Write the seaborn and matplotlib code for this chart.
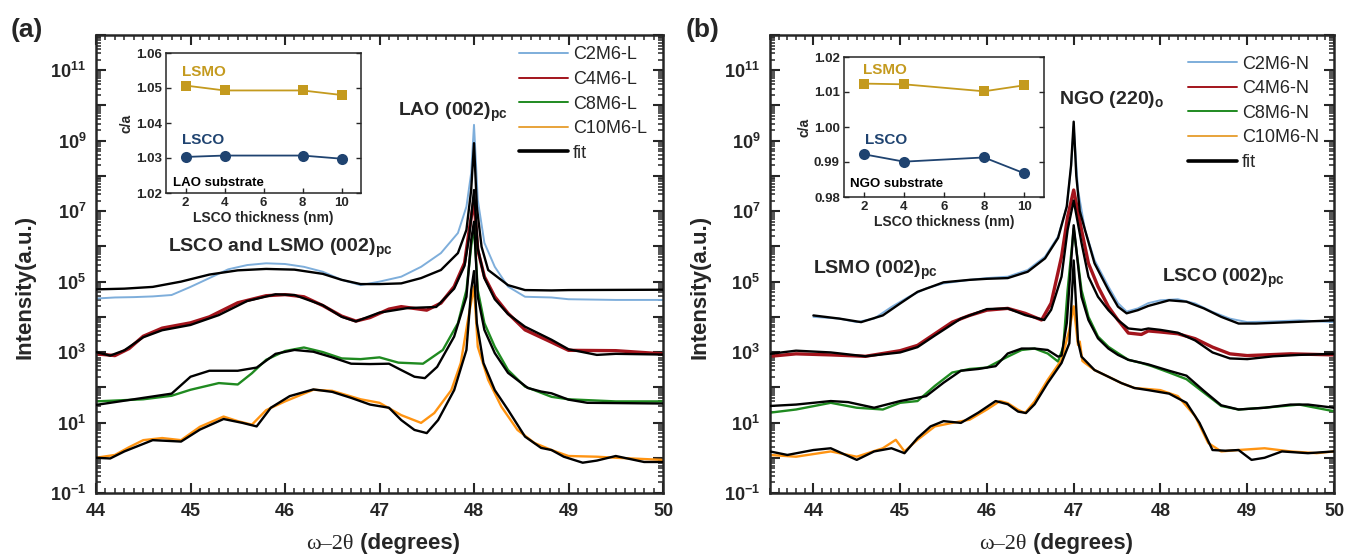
import numpy as np
import matplotlib
matplotlib.use("Agg")
import matplotlib.pyplot as plt
import seaborn as sns
from matplotlib.lines import Line2D
from matplotlib.ticker import LogLocator, FuncFormatter, MultipleLocator, NullFormatter, FixedLocator

sns.set_style("ticks")
plt.rcParams['font.family'] = ['Liberation Sans', 'DejaVu Sans']
plt.rcParams['mathtext.fontset'] = 'custom'
plt.rcParams['mathtext.rm'] = 'Liberation Sans'
plt.rcParams['mathtext.bf'] = 'Liberation Sans:bold'
plt.rcParams['mathtext.it'] = 'Liberation Sans:italic'

# ---------------- panel (a): films on LAO, log10 intensity ----------------
x_c2l = [44.0, 44.2, 44.4, 44.6, 44.8, 45.0, 45.2, 45.4, 45.6, 45.8, 46.0, 46.2, 46.4, 46.6, 46.8, 47.0, 47.23,
         47.44, 47.65, 47.83, 47.92, 47.97, 48.0, 48.04, 48.11, 48.22, 48.36, 48.54, 48.82, 49.0, 49.5, 50.0]
y_c2l = [4.52, 4.55, 4.56, 4.58, 4.62, 4.85, 5.1, 5.35, 5.47, 5.52, 5.5, 5.42, 5.28, 5.05, 4.9, 5.0, 5.14,
         5.42, 5.81, 6.38, 7.13, 8.08, 9.45, 7.32, 6.1, 5.42, 4.86, 4.57, 4.55, 4.5, 4.48, 4.48]
xf_c2l = [44.0, 44.3, 44.6, 44.9, 45.2, 45.5, 45.8, 46.1, 46.4, 46.6, 46.8, 47.0, 47.23, 47.44, 47.65, 47.83,
          47.92, 47.97, 48.0, 48.03, 48.08, 48.15, 48.36, 48.54, 48.82, 49.0, 50.0]
yf_c2l = [4.78, 4.8, 4.85, 5.0, 5.2, 5.32, 5.36, 5.34, 5.22, 5.05, 4.93, 4.93, 4.95, 5.1, 5.33, 5.81,
          6.47, 7.6, 8.93, 7.13, 5.99, 5.33, 4.9, 4.76, 4.75, 4.76, 4.77]

x_c4l = [44.0, 44.2, 44.35, 44.5, 44.7, 45.0, 45.2, 45.5, 45.8, 46.0, 46.2, 46.4, 46.6, 46.75, 46.9, 47.1, 47.23,
         47.5, 47.65, 47.79, 47.9, 47.95, 48.0, 48.04, 48.11, 48.22, 48.36, 48.54, 48.82, 49.0, 49.5, 50.0]
y_c4l = [2.95, 2.9, 3.1, 3.45, 3.68, 3.83, 4.0, 4.4, 4.6, 4.63, 4.57, 4.32, 4.02, 3.88, 3.98, 4.22, 4.29,
         4.19, 4.39, 4.86, 5.53, 6.47, 7.32, 5.9, 5.14, 4.57, 4.1, 3.63, 3.28, 3.05, 3.04, 2.95]
xf_c4l = [44.0, 44.15, 44.3, 44.5, 44.7, 45.0, 45.3, 45.6, 45.9, 46.1, 46.4, 46.6, 46.75, 47.0, 47.3, 47.6,
          47.79, 47.9, 47.95, 48.0, 48.04, 48.11, 48.22, 48.36, 48.54, 48.82, 49.0, 49.3, 49.5, 50.0]
yf_c4l = [3.0, 2.9, 3.05, 3.42, 3.62, 3.77, 4.05, 4.45, 4.64, 4.62, 4.33, 4.0, 3.87, 4.12, 4.25, 4.28,
          4.8, 5.45, 6.3, 7.6, 5.95, 5.1, 4.5, 4.08, 3.72, 3.35, 3.08, 2.92, 2.95, 2.93]

x_c8l = [44.0, 44.5, 44.8, 45.0, 45.3, 45.5, 45.65, 45.8, 46.0, 46.2, 46.4, 46.6, 46.8, 47.0, 47.2, 47.46, 47.67,
         47.83, 47.92, 47.97, 48.0, 48.04, 48.11, 48.22, 48.36, 48.54, 48.82, 49.0, 49.5, 50.0]
y_c8l = [1.6, 1.66, 1.76, 1.93, 2.12, 2.08, 2.4, 2.78, 3.03, 3.13, 3.0, 2.82, 2.8, 2.85, 2.7, 2.67, 3.06,
         3.82, 4.76, 5.99, 6.6, 4.76, 3.82, 3.15, 2.49, 2.02, 1.73, 1.66, 1.6, 1.6]
xf_c8l = [44.0, 44.5, 44.8, 45.0, 45.2, 45.5, 45.7, 45.9, 46.1, 46.3, 46.5, 46.7, 46.9, 47.1, 47.23, 47.37,
          47.48, 47.61, 47.79, 47.92, 47.97, 48.0, 48.04, 48.11, 48.22, 48.36, 48.57, 48.71, 48.82, 49.0, 49.2,
          50.0]
yf_c8l = [1.5, 1.7, 1.82, 2.3, 2.47, 2.47, 2.56, 2.95, 3.06, 3.01, 2.85, 2.67, 2.66, 2.67, 2.49, 2.3,
          2.26, 2.58, 3.44, 4.57, 6.18, 6.7, 4.57, 3.63, 2.97, 2.41, 1.98, 1.88, 1.83, 1.65, 1.56,
          1.54]

x_c10l = [44.0, 44.2, 44.35, 44.5, 44.7, 44.9, 45.1, 45.35, 45.5, 45.65, 45.8, 46.0, 46.3, 46.5, 46.8, 47.0,
          47.23, 47.44, 47.58, 47.76, 47.86, 47.93, 48.0, 48.04, 48.15, 48.29, 48.46, 48.64, 48.82, 49.0, 49.3,
          49.5, 50.0]
y_c10l = [0.0, 0.08, 0.3, 0.5, 0.56, 0.5, 0.88, 1.17, 1.04, 0.94, 1.35, 1.6, 1.93, 1.9, 1.66, 1.56,
          1.21, 0.99, 1.27, 1.92, 2.69, 3.82, 4.86, 3.15, 2.21, 1.45, 0.79, 0.42, 0.22, 0.05, 0.03,
          0.0, -0.06]
xf_c10l = [44.0, 44.15, 44.3, 44.6, 44.9, 45.1, 45.35, 45.55, 45.7, 45.85, 46.05, 46.3, 46.5, 46.7, 46.9, 47.1,
           47.23, 47.37, 47.5, 47.62, 47.79, 47.92, 47.97, 48.0, 48.03, 48.1, 48.22, 48.36, 48.54, 48.71, 48.82,
           48.95, 49.15, 49.3, 49.5, 49.8, 50.0]
yf_c10l = [0.0, -0.02, 0.18, 0.5, 0.46, 0.8, 1.1, 0.99, 0.89, 1.42, 1.75, 1.94, 1.87, 1.7, 1.51, 1.42,
           1.07, 0.79, 0.7, 1.07, 1.92, 3.06, 4.76, 5.3, 3.82, 2.69, 1.92, 1.36, 0.6, 0.28, 0.22,
           0.03, -0.14, -0.08, 0.05, -0.12, -0.12]

# ---------------- panel (b): films on NGO, log10 intensity ----------------
x_c2n = [44.0, 44.3, 44.5, 44.7, 44.9, 45.1, 45.3, 45.5, 45.8, 46.0, 46.24, 46.47, 46.67, 46.82, 46.92, 46.97,
         47.0, 47.05, 47.13, 47.24, 47.4, 47.51, 47.61, 47.74, 47.86, 48.0, 48.2, 48.4, 48.6, 48.8, 49.0, 49.3,
         49.6, 50.0]
y_c2n = [4.0, 3.95, 3.85, 3.95, 4.28, 4.57, 4.81, 4.95, 5.05, 5.1, 5.14, 5.33, 5.71, 6.28, 7.13, 8.26,
         9.4, 7.6, 6.47, 5.61, 4.86, 4.39, 4.15, 4.24, 4.39, 4.47, 4.5, 4.38, 4.14, 3.95, 3.85, 3.87,
         3.9, 3.85]
xf_c2n = [44.0, 44.3, 44.55, 44.8, 45.0, 45.2, 45.5, 45.8, 46.0, 46.24, 46.47, 46.67, 46.82, 46.92, 46.97,
          47.0, 47.03, 47.07, 47.13, 47.24, 47.4, 47.51, 47.61, 47.74, 47.86, 48.1, 48.3, 48.5, 48.7, 48.9,
          49.1, 49.5, 50.0]
yf_c2n = [4.04, 3.95, 3.85, 4.04, 4.38, 4.71, 4.98, 5.05, 5.08, 5.1, 5.28, 5.66, 6.24, 7.13, 8.3,
          9.54, 8.0, 7.0, 6.47, 5.52, 4.76, 4.29, 4.1, 4.19, 4.31, 4.47, 4.43, 4.24, 4.0, 3.81,
          3.81, 3.85, 3.9]

x_c4n = [43.5, 43.8, 44.2, 44.6, 45.0, 45.2, 45.4, 45.6, 45.8, 46.0, 46.24, 46.44, 46.63, 46.74, 46.86, 46.93,
         47.0, 47.09, 47.17, 47.28, 47.4, 47.51, 47.63, 47.78, 47.86, 48.0, 48.2, 48.4, 48.6, 48.8, 49.0, 49.5,
         50.0]
y_c4n = [2.88, 2.95, 2.92, 2.88, 3.04, 3.19, 3.52, 3.85, 4.04, 4.19, 4.24, 4.1, 3.91, 4.39, 5.71, 6.84,
         7.6, 6.47, 5.52, 4.86, 4.29, 3.91, 3.54, 3.5, 3.6, 3.57, 3.52, 3.38, 3.14, 2.95, 2.9, 2.95,
         2.92]
xf_c4n = [43.5, 43.8, 44.2, 44.6, 45.0, 45.2, 45.4, 45.7, 46.0, 46.24, 46.44, 46.66, 46.74, 46.86, 46.93, 47.0,
          47.09, 47.17, 47.28, 47.4, 47.51, 47.63, 47.78, 47.86, 48.0, 48.2, 48.4, 48.6, 48.8, 49.0, 49.3, 49.6,
          50.0]
yf_c4n = [2.95, 3.04, 2.99, 2.88, 2.99, 3.14, 3.47, 3.95, 4.22, 4.24, 4.05, 3.91, 4.2, 5.14, 6.47, 7.3,
          6.1, 5.14, 4.57, 4.19, 3.91, 3.67, 3.63, 3.67, 3.63, 3.55, 3.33, 2.99, 2.82, 2.8, 2.88, 2.92,
          2.95]

x_c8n = [43.5, 43.8, 44.2, 44.5, 44.8, 45.0, 45.2, 45.4, 45.6, 45.8, 46.0, 46.24, 46.4, 46.55, 46.7, 46.82, 46.88,
         46.93, 47.0, 47.09, 47.17, 47.28, 47.4, 47.51, 47.63, 47.78, 47.9, 48.1, 48.3, 48.5, 48.7, 48.9, 49.2,
         49.6, 50.0]
y_c8n = [1.28, 1.37, 1.56, 1.42, 1.37, 1.56, 1.61, 2.04, 2.42, 2.52, 2.56, 2.87, 3.06, 3.1, 2.96, 2.73, 3.15,
         4.76, 6.5, 4.76, 4.0, 3.44, 3.15, 2.97, 2.78, 2.69, 2.6, 2.42, 2.23, 1.85, 1.47, 1.37, 1.42,
         1.51, 1.32]
xf_c8n = [43.5, 43.8, 44.2, 44.4, 44.7, 45.0, 45.3, 45.5, 45.7, 45.9, 46.1, 46.24, 46.4, 46.55, 46.7, 46.82,
          46.86, 46.92, 47.0, 47.09, 47.17, 47.28, 47.4, 47.51, 47.63, 47.86, 48.1, 48.3, 48.5, 48.7, 48.9, 49.2,
          49.5, 49.7, 50.0]
yf_c8n = [1.47, 1.51, 1.61, 1.58, 1.42, 1.61, 1.75, 2.13, 2.47, 2.52, 2.6, 2.96, 3.1, 3.1, 3.06, 2.87,
          2.9, 3.82, 6.6, 4.57, 3.91, 3.39, 3.1, 2.92, 2.78, 2.65, 2.47, 2.33, 1.9, 1.49, 1.37, 1.42,
          1.51, 1.51, 1.42]

x_c10n = [43.5, 43.8, 44.2, 44.5, 44.8, 44.95, 45.05, 45.2, 45.4, 45.6, 45.8, 46.0, 46.15, 46.24, 46.36, 46.44,
          46.55, 46.7, 46.86, 46.95, 47.0, 47.05, 47.07, 47.1, 47.13, 47.24, 47.4, 47.55, 47.7, 47.86, 48.0,
          48.2, 48.4, 48.55, 48.7, 48.9, 49.2, 49.5, 49.8, 50.0]
y_c10n = [0.08, 0.03, 0.18, 0.03, 0.27, 0.51, 0.18, 0.51, 0.89, 0.99, 1.08, 1.37, 1.61, 1.55, 1.36, 1.27,
          1.6, 2.21, 2.78, 3.63, 4.3, 3.2, 3.3, 2.75, 2.69, 2.49, 2.3, 2.12, 1.98, 1.95, 1.92,
          1.75, 1.18, 0.42, 0.18, 0.22, 0.27, 0.18, 0.13, 0.18]
xf_c10n = [43.5, 43.7, 44.0, 44.2, 44.5, 44.7, 44.9, 45.05, 45.2, 45.35, 45.5, 45.7, 45.9, 46.1, 46.24, 46.36,
           46.45, 46.55, 46.7, 46.86, 46.95, 47.0, 47.05, 47.09, 47.24, 47.4, 47.55, 47.7, 47.86, 48.1, 48.3,
           48.45, 48.6, 48.75, 48.9, 49.05, 49.2, 49.4, 49.7, 50.0]
yf_c10n = [0.18, 0.08, 0.22, 0.27, -0.06, 0.18, 0.27, 0.13, 0.56, 0.89, 1.04, 0.99, 1.28, 1.61, 1.52, 1.31,
           1.27, 1.52, 2.12, 2.69, 3.25, 5.6, 3.3, 2.87, 2.49, 2.3, 2.12, 1.98, 1.92, 1.82, 1.56,
           0.99, 0.22, 0.2, 0.22, -0.06, 0.0, 0.18, 0.13, 0.18]

# ---------------- inset data: c/a ratio vs LSCO thickness ----------------
thickness = [2, 4, 8, 10]
ca_lsmo_lao = [1.0507, 1.0493, 1.0493, 1.0480]
ca_lsco_lao = [1.0303, 1.0307, 1.0307, 1.0298]
ca_lsmo_ngo = [1.0124, 1.0122, 1.0102, 1.0119]
ca_lsco_ngo = [0.9922, 0.9901, 0.9913, 0.9868]

labels_a = ["C2M6-L", "C4M6-L", "C8M6-L", "C10M6-L", "fit"]
labels_b = ["C2M6-N", "C4M6-N", "C8M6-N", "C10M6-N", "fit"]

C_BLUE = "#7eaedb"
C_RED = "#a3141c"
C_GREEN = "#1f8a20"
C_ORANGE = "#ff9412"
C_GOLD = "#c49a1e"
C_NAVY = "#1f4370"
series_colors = [C_BLUE, C_RED, C_GREEN, C_ORANGE]
series_widths = [1.4, 2.4, 1.7, 1.7]

W, H = 1348, 556
fig = plt.figure(figsize=(W / 100, H / 100), dpi=100)


def box(l, t, r, b):
    return [l / W, 1 - b / H, (r - l) / W, (b - t) / H]


def curve(ax, xs, logy, color, lw, z):
    sns.lineplot(x=xs, y=10 ** np.asarray(logy, float), ax=ax, color=color, lw=lw,
                 sort=False, estimator=None, zorder=z, legend=False)


def style_main(ax, xmin, xmax):
    ax.set_yscale("log")
    ax.set_xlim(xmin, xmax)
    ax.set_ylim(1e-1, 1e12)
    ax.xaxis.set_major_locator(FixedLocator([44, 45, 46, 47, 48, 49, 50]))
    ax.xaxis.set_minor_locator(MultipleLocator(0.1))
    ax.yaxis.set_major_locator(LogLocator(base=10, numticks=30))
    ax.yaxis.set_minor_locator(LogLocator(base=10, subs=np.arange(2, 10), numticks=30))
    ax.yaxis.set_minor_formatter(NullFormatter())

    def fmt(v, pos):
        e = int(round(np.log10(v)))
        return r"$\mathbf{10^{%d}}$" % e if e % 2 else ""
    ax.yaxis.set_major_formatter(FuncFormatter(fmt))
    ax.tick_params(which="both", direction="in", top=True, right=True, width=1.5)
    ax.tick_params(which="major", length=7, labelsize=13, pad=7)
    ax.tick_params(which="minor", length=3.5, width=1.1)
    for lab in ax.get_xticklabels():
        lab.set_fontweight("bold")
    for s in ax.spines.values():
        s.set_linewidth(1.8)
    ax.set_xlabel("")
    ax.set_ylabel("")
    ax.text(-0.125, 0.45, "Intensity(a.u.)", transform=ax.transAxes, rotation=90,
            ha="center", va="center", fontsize=16, fontweight="bold")
    t1 = ax.text(0.455, -0.112, "ω–2θ", transform=ax.transAxes, ha="right", va="center",
                 fontsize=16, family=["Liberation Serif", "DejaVu Serif"])
    ax.annotate(" (degrees)", xy=(1, 0), xycoords=t1, ha="left", va="bottom",
                fontsize=16, fontweight="bold")


def draw_panel(ax, data, xmin, xmax):
    for i, (xs, ys, xf, yf) in enumerate(data):
        curve(ax, xs, ys, series_colors[i], series_widths[i], 2)
    for i, (xs, ys, xf, yf) in enumerate(data):
        curve(ax, xf, yf, "black", 1.7, 3)
    style_main(ax, xmin, xmax)


def legend(ax, labels, anchor):
    handles = [Line2D([], [], color=c, lw=1.4) for c in [C_BLUE, C_RED, C_GREEN, "#e8a33a"]]
    handles.append(Line2D([], [], color="black", lw=2.6))
    ax.legend(handles, labels, loc="upper left", bbox_to_anchor=anchor, frameon=False,
              fontsize=13, handlelength=2.7, handletextpad=0.3, labelspacing=0.42,
              borderpad=0, borderaxespad=0)


def inset(rect, lsmo, lsco, ylim, yticks, substrate, pos_lsmo, pos_lsco, pos_sub):
    ax = fig.add_axes(rect)
    sns.lineplot(x=thickness, y=lsmo, ax=ax, color=C_GOLD, marker="s", markersize=7.5,
                 markeredgewidth=0, lw=1.3, estimator=None)
    sns.lineplot(x=thickness, y=lsco, ax=ax, color=C_NAVY, marker="o", markersize=8,
                 markeredgewidth=0, lw=1.3, estimator=None)
    ax.set_xlim(1, 11)
    ax.set_ylim(*ylim)
    ax.set_xticks([2, 4, 6, 8, 10])
    ax.set_yticks(yticks)
    ax.yaxis.set_major_formatter(FuncFormatter(lambda v, p: f"{v:.2f}"))
    ax.tick_params(direction="in", length=3.5, width=1, labelsize=9.5, pad=3, right=True)
    for lab in ax.get_xticklabels() + ax.get_yticklabels():
        lab.set_fontweight("bold")
    for s in ax.spines.values():
        s.set_linewidth(1.1)
    ax.set_xlabel("LSCO thickness (nm)", fontsize=10, fontweight="bold", labelpad=1)
    ax.set_ylabel("c/a", fontsize=10, fontweight="bold", labelpad=2)
    ax.text(*pos_lsmo, "LSMO", color=C_GOLD, fontsize=11, fontweight="bold", ha="left", va="center")
    ax.text(*pos_lsco, "LSCO", color=C_NAVY, fontsize=11, fontweight="bold", ha="left", va="center")
    ax.text(*pos_sub, substrate, color="black", fontsize=9.5, fontweight="bold", ha="left", va="center")


# panel (a)
ax_a = fig.add_axes(box(96, 35, 663, 493))
draw_panel(ax_a, [(x_c2l, y_c2l, xf_c2l, yf_c2l), (x_c4l, y_c4l, xf_c4l, yf_c4l),
                  (x_c8l, y_c8l, xf_c8l, yf_c8l), (x_c10l, y_c10l, xf_c10l, yf_c10l)], 44, 50)
legend(ax_a, labels_a, (0.746, 0.975))
ax_a.text(47.78, 10 ** 9.79, r"LAO (002)$_{\mathbf{pc}}$", ha="center", va="center", fontsize=14, fontweight="bold")
ax_a.text(45.95, 10 ** 5.95, r"LSCO and LSMO (002)$_{\mathbf{pc}}$", ha="center", va="center", fontsize=14,
          fontweight="bold")
fig.text(27 / W, 1 - 30 / H, "(a)", fontsize=19, fontweight="bold", ha="center", va="center")

# panel (b)
ax_b = fig.add_axes(box(770, 35, 1334, 493))
draw_panel(ax_b, [(x_c2n, y_c2n, xf_c2n, yf_c2n), (x_c4n, y_c4n, xf_c4n, yf_c4n),
                  (x_c8n, y_c8n, xf_c8n, yf_c8n), (x_c10n, y_c10n, xf_c10n, yf_c10n)], 43.5, 50)
legend(ax_b, labels_b, (0.741, 0.955))
ax_b.text(47.44, 10 ** 10.16, r"NGO (220)$_{\mathbf{o}}$", ha="center", va="center", fontsize=14, fontweight="bold")
ax_b.text(44.71, 10 ** 5.33, r"LSMO (002)$_{\mathbf{pc}}$", ha="center", va="center", fontsize=14, fontweight="bold")
ax_b.text(48.72, 10 ** 5.1, r"LSCO (002)$_{\mathbf{pc}}$", ha="center", va="center", fontsize=14, fontweight="bold")
fig.text(703 / W, 1 - 30 / H, "(b)", fontsize=19, fontweight="bold", ha="center", va="center")

# insets
inset(box(166, 53, 361, 193), ca_lsmo_lao, ca_lsco_lao, (1.02, 1.06), [1.02, 1.03, 1.04, 1.05, 1.06],
      "LAO substrate", (1.8, 1.0546), (1.8, 1.0351), (1.35, 1.0229))
inset(box(844, 57, 1044, 197), ca_lsmo_ngo, ca_lsco_ngo, (0.98, 1.02), [0.98, 0.99, 1.00, 1.01, 1.02],
      "NGO substrate", (1.95, 1.0163), (2.05, 0.9963), (1.3, 0.9837))

fig.savefig("out.png", dpi=100)
